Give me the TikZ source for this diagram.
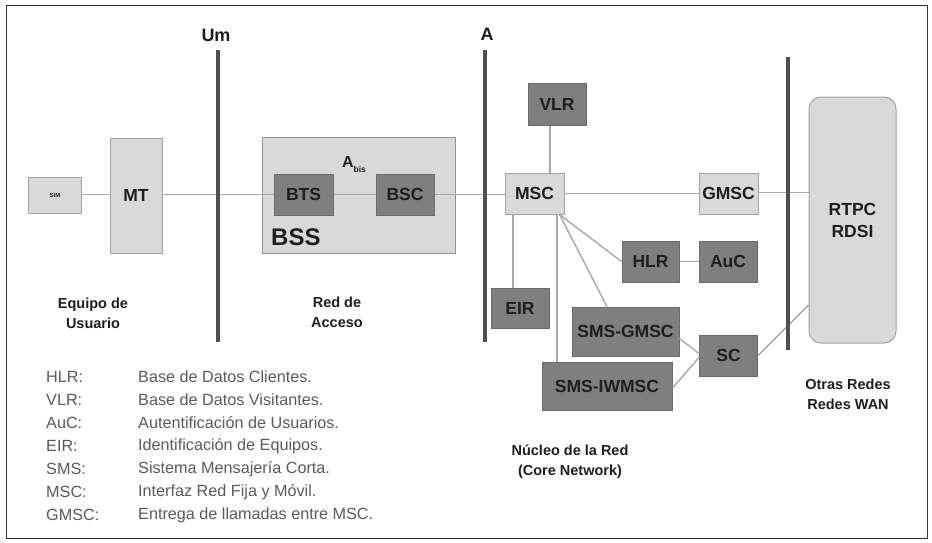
\documentclass[tikz,border=0pt]{standalone}
\usepackage{fontspec}
\setmainfont{Liberation Sans}
\definecolor{lightfill}{HTML}{D9D9D9}
\definecolor{lightedge}{HTML}{A3A3A3}
\definecolor{darkfill}{HTML}{7F7F7F}
\definecolor{darkedge}{HTML}{6A6A6A}
\definecolor{barcol}{HTML}{4F4F4F}
\definecolor{linkcol}{HTML}{A8A8A8}
\definecolor{legendcol}{HTML}{5A5A5A}
\definecolor{txtcol}{HTML}{1E1E1E}
\tikzset{
  boxfont/.style={font=\fontsize{17.5}{20}\selectfont\bfseries, text=txtcol},
  lightbox/.style={rectangle, draw=lightedge, fill=lightfill, line width=1pt,
    inner sep=0pt, boxfont},
  darkbox/.style={rectangle, draw=darkedge, fill=darkfill, line width=1pt,
    inner sep=0pt, boxfont},
  sz/.style 2 args={minimum width=#1pt, minimum height=#2pt},
  link/.style={draw=linkcol, line width=1.4pt},
  bar/.style={draw=barcol, line width=3.6pt},
  zonelabel/.style={font=\fontsize{14.5}{20}\selectfont\bfseries, text=txtcol, align=center},
  iflabel/.style={font=\fontsize{18}{20}\selectfont\bfseries, text=txtcol},
  legabbr/.style={font=\fontsize{16.2}{18}\selectfont, text=legendcol, anchor=west, inner sep=0pt},
}
\begin{document}
\begin{tikzpicture}[x=1pt, y=-1pt]
\useasboundingbox (0,0) rectangle (932,543);
% outer frame
\draw[draw=black!80, line width=1pt] (6,6) rectangle (927,538);

% user equipment
\node[lightbox, sz={53}{36}, font=\fontsize{6}{6}\selectfont\bfseries] (sim) at (55,195) {SIM};
\node[lightbox, sz={52}{115}] (mt) at (136,195.5) {MT};

% access network
\node[lightbox, draw=lightedge!90!black, sz={193}{116}] (bss) at (358.5,195) {};
\node[boxfont, font=\fontsize{24}{26}\selectfont\bfseries, anchor=west, inner sep=0pt] (bsslabel) at (271,237) {BSS};
\node[darkbox, sz={59}{41}] (bts) at (303.5,194.5) {BTS};
\node[darkbox, sz={58}{41}] (bsc) at (405,194.5) {BSC};
\node[boxfont, font=\fontsize{16}{18}\selectfont\bfseries, inner sep=0pt] (abis) at (354,165)
  {A\raisebox{-5pt}{\fontsize{8.5}{9}\selectfont bis}};

% core network
\node[lightbox, sz={59}{41}] (msc) at (534.5,193.5) {MSC};
\node[darkbox, sz={58}{41}] (vlr) at (557,104.5) {VLR};
\node[lightbox, sz={59}{41}] (gmsc) at (728.5,193.5) {GMSC};
\node[darkbox, sz={57}{41}] (hlr) at (650.5,261.5) {HLR};
\node[darkbox, sz={58}{41}] (auc) at (728,261.5) {AuC};
\node[darkbox, sz={58}{40}] (eir) at (520,308) {EIR};
\node[darkbox, sz={107}{49}] (smsg) at (625.5,331.5) {SMS-GMSC};
\node[darkbox, sz={58}{41}] (sc) at (728.5,355.5) {SC};
\node[darkbox, sz={130}{48}] (iw) at (607,386.5) {SMS-IWMSC};

% external networks
\node[lightbox, sz={87}{246}, rounded corners=12pt, align=center] (rtpc) at (852.5,220)
  {RTPC\\[2pt]RDSI};

% connectors (canvas y points up, so a shift downward is negative)
\draw[link] (sim.east |- bts) -- (mt.west |- bts);
\draw[link] (mt.east |- bts) -- (bts.west);
\draw[link] (bts) -- (bsc);
\draw[link] (bsc.east) -- (msc.west |- bsc.east);
\draw[link] (msc) -- (gmsc);
\draw[link] ([yshift=1pt]gmsc.east) -- ([yshift=1pt]gmsc.east -| rtpc.west);
\draw[link] ([xshift=15.5pt]msc.north) -- ([xshift=15.5pt]msc.north |- vlr.south);
\draw[link] ([xshift=-21.5pt]msc.south) -- ([xshift=-21.5pt]msc.south |- eir.north);
\draw[link] ([xshift=22.5pt]msc.south) -- ([xshift=22.5pt]msc.south |- iw.north);
\draw[link] ([xshift=-5pt]msc.south east) -- (hlr.west);
\draw[link] ([xshift=-5pt]msc.south east) -- ([xshift=-18.5pt]smsg.north);
\draw[link] (hlr) -- (auc);
\draw[link] ([yshift=-7pt]smsg.east) -- ([yshift=2pt]sc.west);
\draw[link] ([yshift=-1.5pt]iw.east) -- ([yshift=-2pt]sc.west);
\draw[link] (sc.east) -- ([yshift=-85pt]rtpc.west);

% interface bars
\draw[bar] (218,50) -- (218,342);
\draw[bar] (485,50) -- (485,342);
\draw[bar] (788,57) -- (788,350);
\node[iflabel] (um) at (216,35) {Um};
\node[iflabel] (ia) at (487,34) {A};

% zone labels
\node[zonelabel] (zue) at (93,313) {Equipo de\\Usuario};
\node[zonelabel] (zra) at (337,312) {Red de\\Acceso};
\node[zonelabel] (zcn) at (570,462) {Núcleo de la Red\\(Core Network)};
\node[zonelabel] (zwan) at (848,394) {Otras Redes\\Redes WAN};

% glossary
\foreach \ab/\desc [count=\i] in {HLR:/Base de Datos Clientes.,
    VLR:/Base de Datos Visitantes.,
    AuC:/Autentificación de Usuarios.,
    EIR:/Identificación de Equipos.,
    SMS:/Sistema Mensajería Corta.,
    MSC:/Interfaz Red Fija y Móvil.,
    GMSC:/Entrega de llamadas entre MSC.} {
  \node[legabbr] (ab\i) at (46,{377+23*(\i-1)}) {\ab};
  \node[legabbr] (de\i) at (138,{377+23*(\i-1)}) {\desc};
}
\end{tikzpicture}
\end{document}
